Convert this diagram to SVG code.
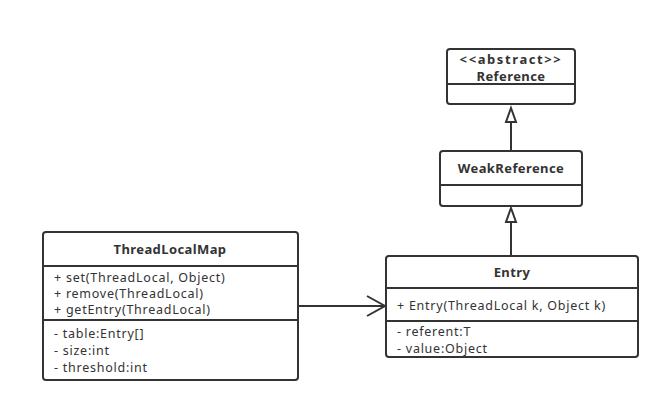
<svg xmlns="http://www.w3.org/2000/svg" width="671" height="404" viewBox="0 0 671 404">
<style>
.box{fill:#fff;stroke:#333;stroke-width:2}
.div{stroke:#333;stroke-width:2}
.t{font-family:"Noto Sans","Open Sans",sans-serif;font-size:12.5px;letter-spacing:0.75px;fill:#333}
.b{font-weight:bold;text-anchor:middle;font-size:13px;letter-spacing:0.4px}
.conn{stroke:#333;stroke-width:2;fill:none}
.head{fill:#fff;stroke:#333;stroke-width:2}
</style>
<rect width="671" height="404" fill="#fff"/>
<g id="connectors">
<path class="conn" d="M511 151 V122"/>
<path class="head" d="M511 108 L516 122 L506 122 Z"/>
<path class="conn" d="M511 257 V222"/>
<path class="head" d="M511 208 L516 222 L506 222 Z"/>
<path class="conn" d="M298 306 H385"/>
<path class="conn" d="M367 296 L385 306 L367 316"/>
</g>
<g id="Reference">
<rect class="box" x="447" y="49" width="128" height="55" rx="3"/>
<line class="div" x1="447" y1="84" x2="575" y2="84"/>
<text class="t b" x="511" y="64" style="letter-spacing:1.6px">&lt;&lt;abstract&gt;&gt;</text>
<text class="t b" x="511" y="81">Reference</text>
</g>
<g id="WeakReference">
<rect class="box" x="440" y="151" width="142" height="55" rx="3"/>
<line class="div" x1="440" y1="185" x2="582" y2="185"/>
<text class="t b" x="511" y="173">WeakReference</text>
</g>
<g id="Entry">
<rect class="box" x="386" y="256" width="252" height="101" rx="3"/>
<line class="div" x1="386" y1="288" x2="638" y2="288"/>
<line class="div" x1="386" y1="321" x2="638" y2="321"/>
<text class="t b" x="512" y="277">Entry</text>
<text class="t" x="397" y="309.5">+ Entry(ThreadLocal k, Object k)</text>
<text class="t" x="397" y="335.5">- referent:T</text>
<text class="t" x="397" y="352.5">- value:Object</text>
</g>
<g id="ThreadLocalMap">
<rect class="box" x="43" y="232" width="255" height="148" rx="3"/>
<line class="div" x1="43" y1="266" x2="298" y2="266"/>
<line class="div" x1="43" y1="320" x2="298" y2="320"/>
<text class="t b" x="170" y="254">ThreadLocalMap</text>
<text class="t" x="54" y="281.5">+ set(ThreadLocal, Object)</text>
<text class="t" x="54" y="297.5">+ remove(ThreadLocal)</text>
<text class="t" x="54" y="313.5">+ getEntry(ThreadLocal)</text>
<text class="t" x="54" y="338">- table:Entry[]</text>
<text class="t" x="54" y="355">- size:int</text>
<text class="t" x="54" y="372">- threshold:int</text>
</g>
</svg>
